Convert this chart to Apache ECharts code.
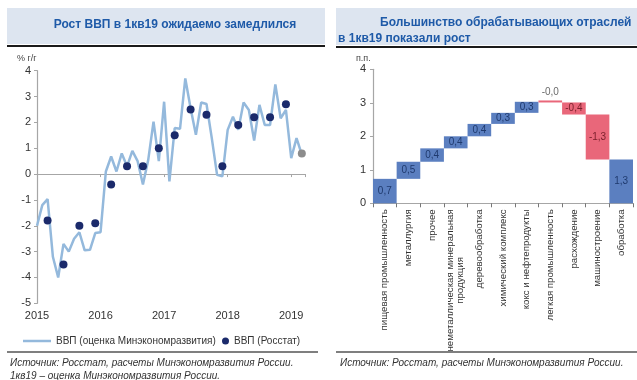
<!DOCTYPE html>
<html><head><meta charset="utf-8">
<script src="https://cdn.jsdelivr.net/npm/echarts@6/dist/echarts.min.js"></script>
<style>html,body{margin:0;padding:0;background:#fff}#c{width:637px;height:380px}</style>
</head><body><div id="c"></div>
<script>
// ---- Left chart data ----
const yearTicks = ['2015', '2016', '2017', '2018', '2019'];
// monthly GDP estimate, Jan 2015 .. Mar 2019
const gdpMonthly = [-2.0,-1.2,-0.97,-3.2,-4.0,-2.7,-3.0,-2.5,-2.25,-2.95,-2.93,-2.28,
  -2.25,0.1,0.68,0.1,0.8,0.3,0.9,0.5,-0.4,0.55,2.03,0.5,
  2.8,-0.28,1.78,1.75,3.7,2.55,1.52,2.77,2.71,1.39,-0.03,-0.09,
  1.71,2.22,1.71,2.77,2.48,1.3,2.68,1.9,1.9,3.47,2.16,2.48,
  0.62,1.39,0.75];
// quarterly Rosstat GDP, 1кв15 .. 4кв18
const rosstatQuarterly = [-1.8,-3.5,-2.0,-1.9,-0.4,0.3,0.3,1.0,1.5,2.5,2.3,0.3,1.9,2.2,2.2,2.7];
// 1кв19 estimate
const estimateQ119 = [0.8];

// ---- Right chart data ----
const categories = ['пищевая промышленность','металлургия','прочее','неметаллическая минеральная\nпродукция',
  'деревообработка','химический комплекс','кокс и нефтепродукты','легкая промышленность',
  'расхождение','машиностроение','обработка'];
const contributions = [0.73,0.51,0.40,0.36,0.37,0.33,0.33,-0.02,-0.36,-1.34];
const totalValue = 1.31;

const FONT = "'Liberation Sans', Arial, sans-serif";
const BLUE = '#5b7fc0', RED = '#e9677a';
const fmt = v => v.toFixed(1).replace('.', ',');

const lineData = gdpMonthly.map((v, i) => [i, v]);
const rosstatData = rosstatQuarterly.map((v, q) => [q * 3 + 2, v]);
const estData = estimateQ119.map((v, k) => [(rosstatQuarterly.length + k) * 3 + 2, v]);

const baseData = [], valData = [];
let cum = 0;
contributions.forEach((v, i) => {
  const s = cum, e = cum + v;
  cum = e;
  baseData.push(Math.min(s, e));
  const neg = v < 0;
  const tiny = Math.abs(v) < 0.05;
  valData.push({
    value: Math.abs(v),
    itemStyle: { color: neg ? RED : BLUE },
    label: {
      formatter: fmt(v),
      position: tiny ? 'top' : 'inside',
      color: tiny ? '#6b6b6b' : (neg ? '#7a1f2b' : '#1f3a6e')
    }
  });
});
baseData.push(0);
valData.push({ value: totalValue, itemStyle: { color: BLUE }, label: { formatter: fmt(totalValue), position: 'inside', color: '#1f3a6e' } });

const chart = echarts.init(document.getElementById('c'), null, { renderer: 'canvas' });
const axisGray = '#a6a6a6';
chart.setOption({
  animation: false,
  textStyle: { fontFamily: FONT },
  grid: [
    { left: 37, top: 70.7, width: 268, height: 232.6 },
    { left: 373, top: 69.3, width: 260, height: 134 }
  ],
  xAxis: [
    { type: 'value', gridIndex: 0, min: 0, max: 50.6, interval: 12, position: 'bottom',
      axisLine: { show: false, onZero: false }, axisTick: { show: false }, splitLine: { show: false },
      axisLabel: { fontSize: 11, color: '#333', margin: 7, formatter: v => yearTicks[v / 12] || '' } },
    { type: 'value', gridIndex: 0, min: 0, max: 50.6, interval: 12, position: 'top',
      axisLine: { show: true, onZero: true, lineStyle: { color: axisGray, width: 1.2 } },
      axisTick: { show: true, inside: true, length: 3, lineStyle: { color: axisGray } },
      axisLabel: { show: false }, splitLine: { show: false } },
    { type: 'category', gridIndex: 1, data: categories,
      axisLine: { show: true, onZero: false, lineStyle: { color: axisGray, width: 1.2 } },
      axisTick: { show: true, length: 4, lineStyle: { color: '#777' } },
      axisLabel: { interval: 0, rotate: 90, fontSize: 9.7, color: '#333', margin: 6,
        formatter: v => v.includes('\n') ? v.split('\n').map(s => '{c|' + s + '}').join('\n') : v,
        rich: { c: { align: 'center', fontSize: 9.7, color: '#333', fontFamily: FONT } } } }
  ],
  yAxis: [
    { type: 'value', gridIndex: 0, min: -5, max: 4, interval: 1,
      axisLine: { show: true, onZero: false, lineStyle: { color: axisGray, width: 1.2 } },
      axisTick: { show: true, length: 3, lineStyle: { color: axisGray } },
      splitLine: { show: false }, axisLabel: { fontSize: 11, color: '#333', margin: 6 } },
    { type: 'value', gridIndex: 1, min: 0, max: 4, interval: 1,
      axisLine: { show: true, onZero: false, lineStyle: { color: axisGray, width: 1.2 } },
      axisTick: { show: true, length: 3, lineStyle: { color: axisGray } },
      splitLine: { show: false }, axisLabel: { fontSize: 11, color: '#333', margin: 7 } }
  ],
  legend: [
    { data: [{ name: 'ВВП (оценка Минэкономразвития)', icon: 'rect' }], left: 18, top: 331, itemWidth: 28, itemHeight: 2.5,
      textStyle: { fontSize: 10, color: '#333' } },
    { data: ['ВВП (Росстат)'], left: 217, top: 331, itemWidth: 7, itemHeight: 7,
      textStyle: { fontSize: 10, color: '#333' } }
  ],
  series: [
    { name: 'ВВП (оценка Минэкономразвития)', type: 'line', xAxisIndex: 0, yAxisIndex: 0,
      data: lineData, showSymbol: false, symbol: 'none',
      lineStyle: { color: '#94b9dc', width: 2.5 }, itemStyle: { color: '#94b9dc' }, z: 2 },
    { name: 'ВВП (Росстат)', type: 'scatter', xAxisIndex: 0, yAxisIndex: 0,
      data: rosstatData, symbolSize: 8, itemStyle: { color: '#1b2a6b', opacity: 1 }, z: 3 },
    { name: 'оценка 1кв19', type: 'scatter', xAxisIndex: 0, yAxisIndex: 0,
      data: estData, symbolSize: 8, itemStyle: { color: '#8c8c8c', opacity: 1 }, z: 3 },
    { name: 'base', type: 'bar', xAxisIndex: 2, yAxisIndex: 1, stack: 'w',
      data: baseData, itemStyle: { color: 'rgba(0,0,0,0)' }, barCategoryGap: '0%', silent: true },
    { name: 'value', type: 'bar', xAxisIndex: 2, yAxisIndex: 1, stack: 'w',
      data: valData, barCategoryGap: '0%', barMinHeight: 2,
      label: { show: true, fontSize: 10, distance: 3 } }
  ],
  graphic: [
    { type: 'rect', shape: { x: 7, y: 8, width: 318, height: 36 }, style: { fill: '#dde5f0' } },
    { type: 'line', shape: { x1: 7, y1: 46, x2: 325, y2: 46 }, style: { stroke: '#1a1a1a', lineWidth: 2 } },
    { type: 'text', x: 175, y: 25, style: { text: 'Рост ВВП в 1кв19 ожидаемо замедлился', textAlign: 'center', textVerticalAlign: 'middle',
      fontSize: 12, fontWeight: 'bold', fontFamily: FONT, fill: '#1e5aa8' } },
    { type: 'rect', shape: { x: 336, y: 8, width: 301, height: 37 }, style: { fill: '#dde5f0' } },
    { type: 'line', shape: { x1: 336, y1: 47, x2: 637, y2: 47 }, style: { stroke: '#1a1a1a', lineWidth: 2 } },
    { type: 'text', x: 380, y: 23, style: { text: 'Большинство обрабатывающих отраслей', textAlign: 'left', textVerticalAlign: 'middle',
      fontSize: 12, fontWeight: 'bold', fontFamily: FONT, fill: '#1e5aa8' } },
    { type: 'text', x: 338, y: 39, style: { text: 'в 1кв19 показали рост', textAlign: 'left', textVerticalAlign: 'middle',
      fontSize: 12, fontWeight: 'bold', fontFamily: FONT, fill: '#1e5aa8' } },
    { type: 'text', x: 17, y: 59, style: { text: '% г/г', textAlign: 'left', textVerticalAlign: 'middle',
      fontSize: 9, fontFamily: FONT, fill: '#444' } },
    { type: 'text', x: 356, y: 59, style: { text: 'п.п.', textAlign: 'left', textVerticalAlign: 'middle',
      fontSize: 9, fontFamily: FONT, fill: '#444' } },
    { type: 'line', shape: { x1: 7, y1: 352, x2: 318, y2: 352 }, style: { stroke: '#555', lineWidth: 1.5 } },
    { type: 'line', shape: { x1: 336, y1: 352, x2: 637, y2: 352 }, style: { stroke: '#555', lineWidth: 1.5 } },
    { type: 'text', x: 10, y: 363, style: { text: 'Источник: Росстат, расчеты Минэкономразвития России.', textAlign: 'left', textVerticalAlign: 'middle',
      fontSize: 10, fontStyle: 'italic', fontFamily: FONT, fill: '#333' } },
    { type: 'text', x: 10, y: 376, style: { text: '1кв19 – оценка Минэкономразвития России.', textAlign: 'left', textVerticalAlign: 'middle',
      fontSize: 10, fontStyle: 'italic', fontFamily: FONT, fill: '#333' } },
    { type: 'text', x: 340, y: 363, style: { text: 'Источник: Росстат, расчеты Минэкономразвития России.', textAlign: 'left', textVerticalAlign: 'middle',
      fontSize: 10, fontStyle: 'italic', fontFamily: FONT, fill: '#333' } }
  ]
});
</script>
</body></html>
